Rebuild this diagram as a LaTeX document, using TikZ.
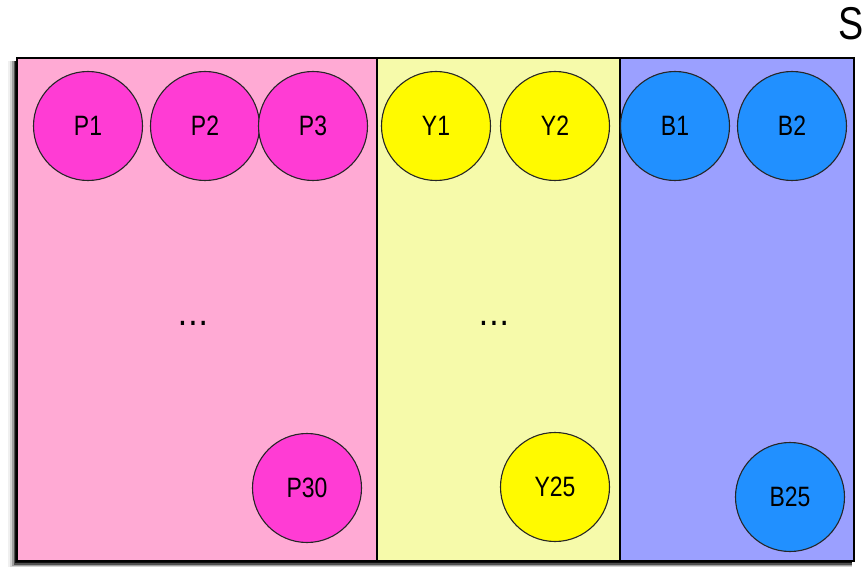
\documentclass[tikz,border=0pt]{standalone}
\usepackage{fontspec}
\setmainfont[FakeStretch=0.82]{Liberation Sans}
\usetikzlibrary{positioning, calc}

\definecolor{pinkbg}{RGB}{255,170,212}
\definecolor{pinkdot}{RGB}{255,60,212}
\definecolor{yellowbg}{RGB}{246,250,170}
\definecolor{yellowdot}{RGB}{255,250,0}
\definecolor{bluebg}{RGB}{155,160,255}
\definecolor{bluedot}{RGB}{33,144,255}

\begin{document}
\begin{tikzpicture}[
    x=1pt, y=-1pt,
    panel/.style={draw=black, line width=1.8pt},
    ball/.style={circle, draw=black!85, line width=1.1pt, minimum size=109pt, inner sep=0pt, font=\fontsize{28}{30}\selectfont},
    pball/.style={ball, fill=pinkdot},
    yball/.style={ball, fill=yellowdot},
    bball/.style={ball, fill=bluedot},
    gap/.style={font=\fontsize{28}{30}\selectfont\bfseries, inner sep=0pt}
]
    % Page size
    \useasboundingbox (0,0) rectangle (863,567);

    % Shadow of the frame
    \foreach \s/\o in {9/0.06, 7/0.12, 5/0.25, 3.5/0.5, 2/0.8}
        \fill[black, opacity=\o] ($(17,58)+(-\s,3)$) rectangle ($(854,561)+(-2,\s)$);

    % Panels
    \draw[panel, fill=pinkbg] (17,58) rectangle (377,561);
    \draw[panel, fill=yellowbg] (377,58) rectangle (620,561);
    \draw[panel, fill=bluebg] (620,58) rectangle (854,561);

    % Title (cut by the page edge)
    \node[anchor=west, inner sep=0pt, font=\fontsize{46}{48}\selectfont] (title) at (838,24) {S};

    % Pink balls
    \node[pball] (p1) at (88,126) {P1};
    \node[pball] (p2) at (205,126) {P2};
    \node[pball] (p3) at (313,126) {P3};
    \node[gap] (pgap) at (193,323) {.\kern4pt.\kern4pt.};
    \node[pball] (p30) at (307,488) {P30};

    % Yellow balls
    \node[yball] (y1) at (436,126) {Y1};
    \node[yball] (y2) at (555,126) {Y2};
    \node[gap] (ygap) at (494,323) {.\kern4pt.\kern4pt.};
    \node[yball] (y25) at (555,487) {Y25};

    % Blue balls
    \node[bball] (b1) at (675,126) {B1};
    \node[bball] (b2) at (792,126) {B2};
    \node[bball] (b25) at (790,497) {B25};

\end{tikzpicture}
\end{document}
